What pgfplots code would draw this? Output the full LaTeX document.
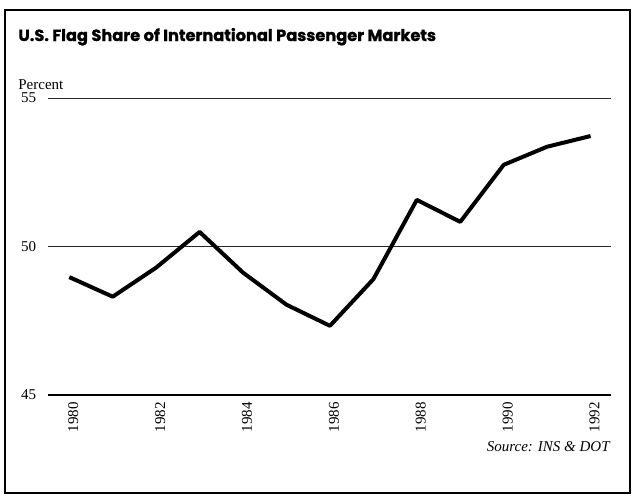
\documentclass[border=0pt]{standalone}
\usepackage{pgfplots}
\pgfplotsset{compat=1.18}
\usepackage{fontspec}
\setmainfont{Liberation Serif}
\newfontfamily\titlefont{Poppins}[BoldFeatures={FakeBold=1.2}]
\begin{document}
\begin{tikzpicture}[x=1pt,y=1pt]
\path[use as bounding box] (0,0) rectangle (316,247.5);
\draw[line width=0.8pt] (2.5,1) rectangle (315,242.5);
\node[anchor=base west, inner sep=0] at (9,227) {\titlefont\bfseries\fontsize{8.1}{9}\selectfont U.S. Flag Share of International Passenger Markets};
\node[anchor=base west, inner sep=0] at (9,203) {\fontsize{7.5}{9}\selectfont Percent};
\node[anchor=base east, inner sep=0] at (305,22) {\fontsize{7.5}{9}\selectfont\itshape Source: INS \& DOT};
\begin{axis}[
  at={(24pt,50pt)}, anchor=south west,
  scale only axis, width=281.5pt, height=148.5pt,
  xmin=1979.51, xmax=1992.47, ymin=45, ymax=55,
  axis line style={draw=none},
  tick style={draw=none},
  ytick={45,50,55}, xtick={1980,1982,...,1992},
  ymajorgrids, grid style={black!85, line width=0.5pt},
  /pgf/number format/assume math mode=true,
  /pgf/number format/1000 sep={},
  ticklabel style={font=\fontsize{7.5}{9}\selectfont},
  yticklabel style={anchor=west, xshift=-17pt},
  xticklabel style={rotate=90, anchor=east, yshift=-2pt},
  clip=false,
]
\addplot[black, line width=2pt, line join=round, mark=none] coordinates {
(1980,48.97) (1981,48.31) (1982,49.29) (1983,50.49) (1984,49.12) (1985,48.04)
(1986,47.33) (1987,48.9) (1988,51.57) (1989,50.83) (1990,52.75) (1991,53.36) (1992,53.72)
};
\draw[line width=1pt] (axis cs:1979.51,45) -- (axis cs:1992.47,45);
\end{axis}
\end{tikzpicture}
\end{document}
